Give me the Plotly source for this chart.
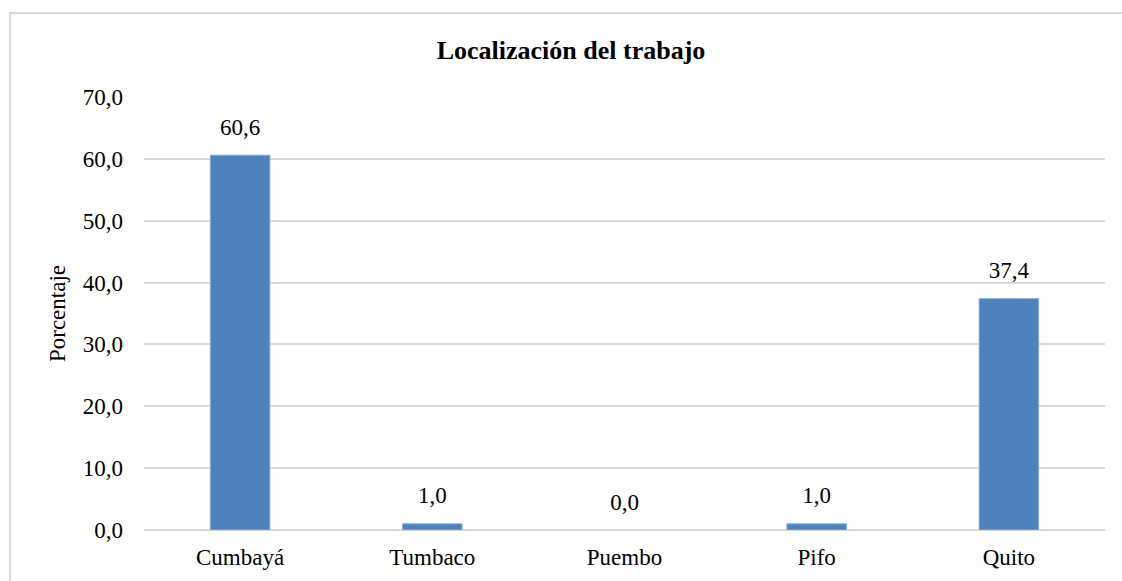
import plotly.graph_objects as go

categories = ["Cumbayá", "Tumbaco", "Puembo", "Pifo", "Quito"]
percentages = [60.6, 1.0, 0.0, 1.0, 37.4]
y_ticks = [0, 10, 20, 30, 40, 50, 60, 70]

font_family = "Liberation Serif, Times New Roman, serif"

fig = go.Figure()
fig.add_trace(go.Bar(
    x=categories,
    y=percentages,
    marker=dict(
        color="#4F81BD",
        # no outline on empty bars, otherwise a zero bar shows as a sliver
        line=dict(color="#8EAEDB", width=[1 if v > 0 else 0 for v in percentages]),
    ),
    width=0.31,
    hoverinfo="x+y",
))
# value labels sit a bit above the bar tops, like the Excel original
fig.add_trace(go.Scatter(
    x=categories,
    y=percentages,
    mode="markers+text",
    marker=dict(size=22, opacity=0),
    texttemplate="%{y:.1f}",
    textposition="top center",
    textfont=dict(family=font_family, size=23, color="#000000"),
    cliponaxis=False,
    hoverinfo="skip",
))

fig.update_layout(
    width=1122,
    height=581,
    separators=",.",
    margin=dict(l=144, r=17, t=97, b=51),
    paper_bgcolor="white",
    plot_bgcolor="white",
    showlegend=False,
    title=dict(
        text="<b>Localización del trabajo</b>",
        x=571 / 1122, xref="container", xanchor="center",
        y=1 - 50 / 581, yref="container", yanchor="middle",
        font=dict(family=font_family, size=26, color="#000000"),
    ),
    font=dict(family=font_family, size=23, color="#000000"),
    xaxis=dict(
        showgrid=False,
        showline=False,
        ticks="",
        ticklabelstandoff=11,
        tickfont=dict(family=font_family, size=23),
    ),
    yaxis=dict(
        range=[0, 70],
        tickvals=y_ticks,
        tickformat=".1f",
        showgrid=True,
        gridcolor="#D9D9D9",
        gridwidth=1.5,
        zeroline=True,
        zerolinecolor="#D9D9D9",
        zerolinewidth=1.5,
        showline=False,
        ticks="",
        ticklabelstandoff=20,
        tickfont=dict(family=font_family, size=23),
        title=dict(text="Porcentaje", font=dict(family=font_family, size=23), standoff=10),
    ),
    shapes=[dict(
        type="rect", xref="paper", yref="paper",
        x0=-0.1394, x1=1.05, y0=-0.2, y1=1.194,
        line=dict(color="#D9D9D9", width=2),
        fillcolor="rgba(0,0,0,0)",
        layer="below",
    )],
)

fig.write_html(
    "out.html",
    config={"displayModeBar": False},
    post_script="document.body.style.margin='0';",
)
